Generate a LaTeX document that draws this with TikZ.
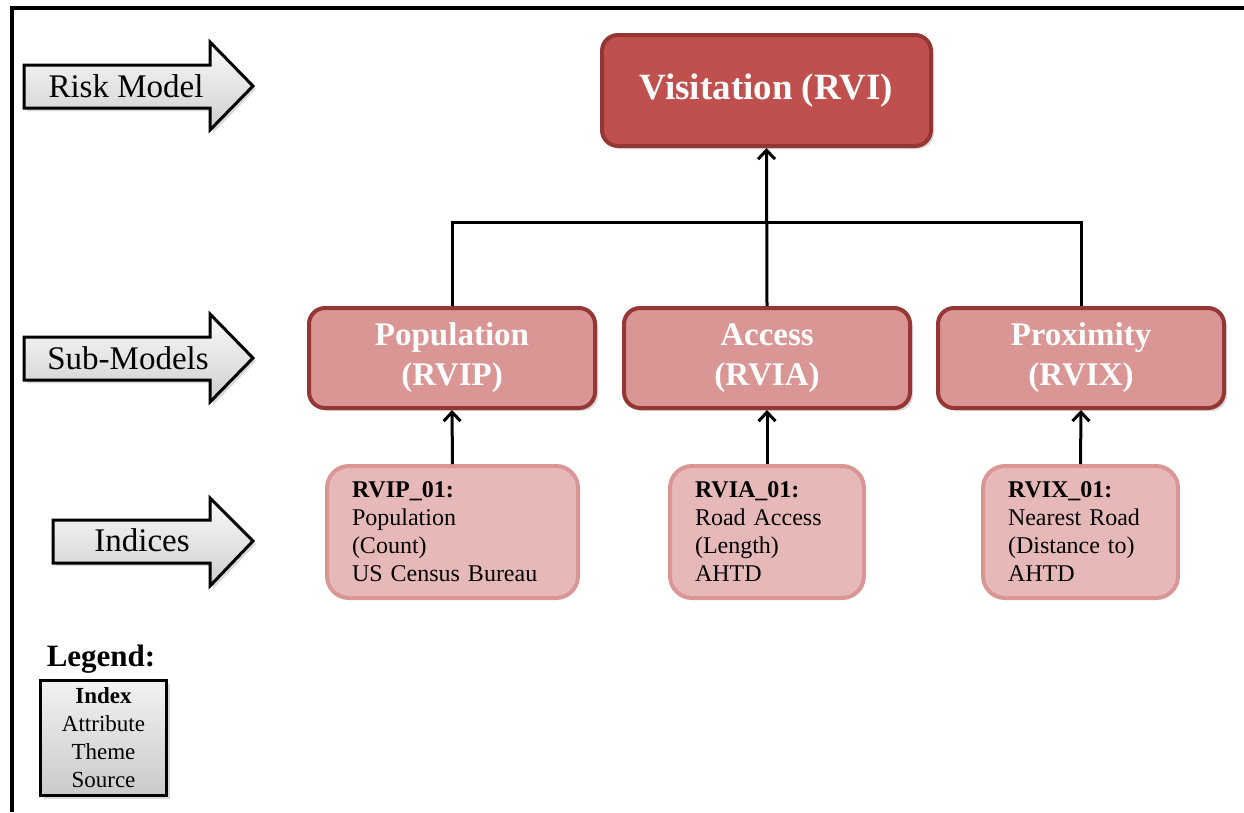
\documentclass[tikz,border=0pt]{standalone}
\usepackage{fontspec}
\setmainfont{Liberation Serif}
\usetikzlibrary{arrows.meta,shadows}
\definecolor{visfill}{HTML}{C0504D}
\definecolor{visdraw}{HTML}{943634}
\definecolor{subfill}{HTML}{D99694}
\definecolor{subdraw}{HTML}{953735}
\definecolor{idxfill}{HTML}{E6B9B8}
\definecolor{idxdraw}{HTML}{D99694}
\tikzset{
  softshadow/.style={drop shadow={opacity=0.3,shadow xshift=3pt,shadow yshift=-3pt}},
  visbox/.style={draw=visdraw, fill=visfill, line width=4pt, rounded corners=16pt,
    minimum width=329pt, minimum height=111pt, text=white,
    font=\bfseries\fontsize{37}{42}\selectfont, softshadow},
  subbox/.style={draw=subdraw, fill=subfill, line width=4pt, rounded corners=16pt,
    minimum width=286pt, minimum height=100pt, text=white, align=center,
    font=\bfseries\fontsize{33}{40}\selectfont, softshadow},
  idxbox/.style={draw=idxdraw, fill=idxfill, line width=4pt, rounded corners=22pt,
    minimum height=132pt, align=left, inner xsep=25pt, inner ysep=4pt,
    font=\fontsize{24}{28}\selectfont},
  conn/.style={line width=3pt, draw=black},
  upconn/.style={conn, -{Straight Barb[length=9pt,width=17pt]}},
  blockarrow/.style={draw=black, line width=3pt, top color=gray!4, bottom color=gray!38,
    line join=miter, softshadow},
  arrowtext/.style={font=\fontsize{33}{40}\selectfont},
  legbox/.style={draw=black, line width=3pt, top color=gray!10, bottom color=gray!42,
    minimum width=126pt, minimum height=115pt, align=center, inner sep=2pt,
    font=\fontsize{23}{28}\selectfont, softshadow}
}
\begin{document}
\begin{tikzpicture}[x=1pt,y=1pt]
\useasboundingbox (0,0) rectangle (1244,-812);
% frame
\draw[line width=4pt, line join=miter] (12,-812) -- (12,-8) -- (1244,-8);

% block arrows
\path[blockarrow] (24,-65) -- (210,-65) -- (210,-42) -- (253,-86) -- (210,-130) -- (210,-108) -- (24,-108) -- cycle;
\path[blockarrow] (24,-337) -- (210,-337) -- (210,-314) -- (253,-358) -- (210,-402) -- (210,-380) -- (24,-380) -- cycle;
\path[blockarrow] (53,-520) -- (210,-520) -- (210,-498) -- (253,-541) -- (210,-586) -- (210,-563) -- (53,-563) -- cycle;
\node[arrowtext] (rmt) at (126,-86) {Risk Model};
\node[arrowtext] (smt) at (128,-358) {Sub-Models};
\node[arrowtext] (int) at (142,-540) {Indices};

% main boxes
\node[visbox] (vis) at (766.5,-90.5) {Visitation (RVI)};
\node[subbox] (pop) at (452,-358) {Population\\(RVIP)};
\node[subbox] (acc) at (767,-358) {Access\\(RVIA)};
\node[subbox] (prx) at (1081,-358) {Proximity\\(RVIX)};

\node[idxbox, text width=201pt] (ipop) at (452.5,-532) {\textbf{RVIP\_01:}\\Population\\(Count)\\US Census Bureau};
\node[idxbox, text width=144pt] (iacc) at (767,-532) {\textbf{RVIA\_01:}\\Road Access\\(Length)\\AHTD};
\node[idxbox, text width=145pt] (iprx) at (1080.5,-532) {\textbf{RVIX\_01:}\\Nearest Road\\(Distance to)\\AHTD};

% connectors
\coordinate (bar) at (767,-222);
\draw[conn] (pop.north) |- (bar) -| (prx.north);
\draw[upconn] (acc.north) -- (vis.south);
\draw[upconn] (ipop.north) -- (pop.south);
\draw[upconn] (iacc.north) -- (acc.south);
\draw[upconn] (iprx.north) -- (prx.south);

% legend
\node[font=\bfseries\fontsize{31}{36}\selectfont] (legt) at (101,-659) {Legend:};
\node[legbox] (leg) at (103.5,-738) {\textbf{Index}\\Attribute\\Theme\\Source};
\end{tikzpicture}
\end{document}
